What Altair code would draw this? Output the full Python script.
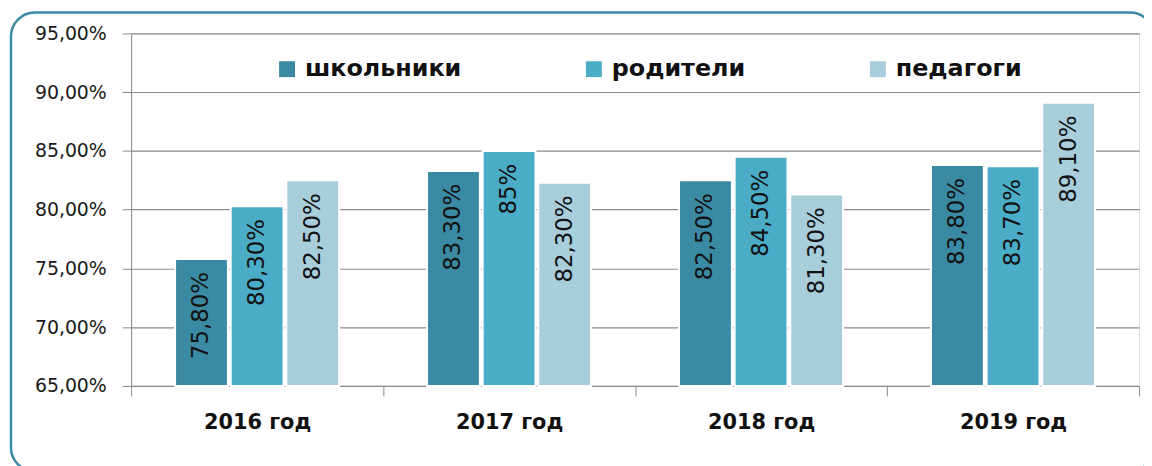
import altair as alt
import pandas as pd

years = ["2016 год", "2017 год", "2018 год", "2019 год"]
series = ["школьники", "родители", "педагоги"]
school = [75.8, 83.3, 82.5, 83.8]
parents = [80.3, 85.0, 84.5, 83.7]
teachers = [82.5, 82.3, 81.3, 89.1]
school_lbl = ["75,80%", "83,30%", "82,50%", "83,80%"]
parents_lbl = ["80,30%", "85%", "84,50%", "83,70%"]
teachers_lbl = ["82,50%", "82,30%", "81,30%", "89,10%"]
colors = ["#3B8AA3", "#4AACC6", "#A8CEDC"]
y_ticks = [0.65, 0.70, 0.75, 0.80, 0.85, 0.90, 0.95]

rows = []
for name, vals, lbls in zip(series, [school, parents, teachers],
                            [school_lbl, parents_lbl, teachers_lbl]):
    for yr, v, l in zip(years, vals, lbls):
        rows.append({"year": yr, "series": name, "value": v / 100, "label": l})
df = pd.DataFrame(rows)

FONT = "DejaVu Sans"

x_enc = alt.X("year:N", sort=years,
              scale=alt.Scale(paddingInner=0, paddingOuter=0),
              axis=alt.Axis(title=None, labelAngle=0, labelFont=FONT,
                            labelFontWeight="bold", labelFontSize=21,
                            labelColor="#111111", labelPadding=16,
                            tickBand="extent", tickSize=10,
                            tickColor="#8a8a8a", domainColor="#8a8a8a",
                            grid=False))
xo_enc = alt.XOffset("series:N", sort=series,
                     scale=alt.Scale(paddingInner=0.05, paddingOuter=0.79))
y_scale = alt.Scale(domain=[0.65, 0.95], zero=False, nice=False)

base = alt.Chart(df)

bars = base.mark_bar(stroke="white", strokeWidth=2).encode(
    x=x_enc,
    xOffset=xo_enc,
    y=alt.Y("value:Q", scale=y_scale,
            axis=alt.Axis(title=None, values=y_ticks,
                          labelExpr="replace(format(datum.value, '.2%'), '.', ',')",
                          labelFont=FONT, labelFontSize=19, labelColor="#1a1a1a",
                          labelPadding=16, tickSize=9, tickColor="#8a8a8a",
                          domainColor="#8a8a8a", gridColor="#8a8a8a",
                          gridWidth=1.2, grid=True)),
    y2=alt.datum(0.65),
    color=alt.Color("series:N", sort=series,
                    scale=alt.Scale(domain=series, range=colors),
                    legend=alt.Legend(title=None, orient="none", legendX=145,
                                      legendY=24, direction="horizontal",
                                      symbolType="square", symbolSize=256,
                                      symbolStrokeWidth=0, labelOffset=6,
                                      columnPadding=121, labelFont=FONT,
                                      labelFontWeight="bold", labelFontSize=24,
                                      labelColor="#111111")),
)

labels = base.mark_text(angle=270, align="right", baseline="middle",
                        dx=-13, font=FONT, fontSize=23, color="#111111").encode(
    x=alt.X("year:N", sort=years),
    xOffset=alt.XOffset("series:N", sort=series),
    y=alt.Y("value:Q"),
    text="label:N",
)

frame = alt.Chart(pd.DataFrame({"a": [0]})).mark_rect(
    fill=None, stroke="#3A8BA5", strokeWidth=2.5, cornerRadius=24
).encode(x=alt.value(-121), x2=alt.value(1030), y=alt.value(-21), y2=alt.value(441))

chart = alt.layer(frame, bars, labels).properties(
    width=1015, height=355,
    autosize=alt.AutoSizeParams(type="none"),
    padding={"left": 124, "top": 24, "right": 5, "bottom": 79},
).configure_view(stroke=None).configure(background="white")

chart.save("out.html", embed_options={"renderer": "svg", "actions": False})
